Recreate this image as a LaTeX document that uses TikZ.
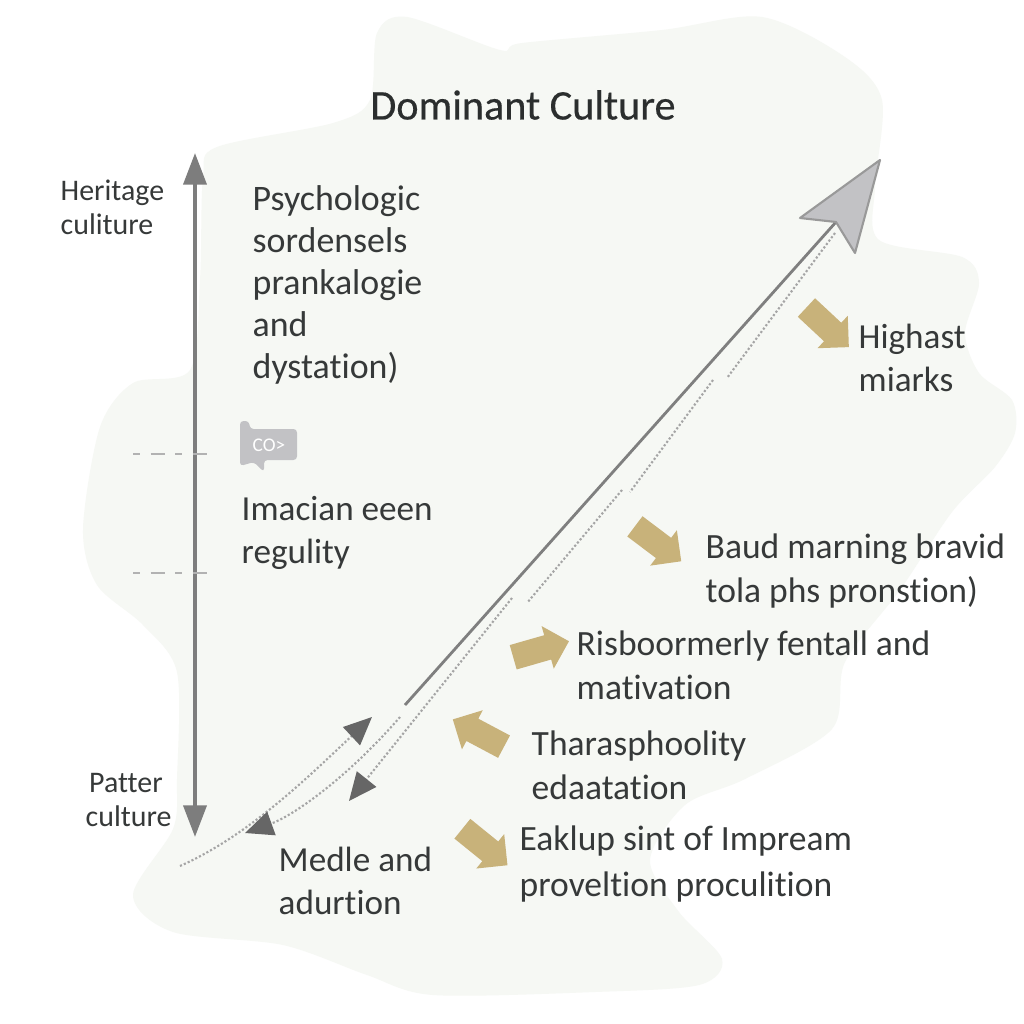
\documentclass[tikz,border=0pt]{standalone}
\usepackage{fontspec}
\setmainfont[Ligatures=NoCommon]{Carlito}
\newfontfamily\titlefont[FakeBold=0.4,Ligatures=NoCommon]{Carlito}
\usetikzlibrary{arrows.meta,shapes.arrows}
\definecolor{blobfill}{HTML}{F6F8F4}
\definecolor{inkgrey}{HTML}{363939}
\definecolor{shaftgrey}{HTML}{7F7F7F}
\definecolor{headgrey}{HTML}{C2C2C5}
\definecolor{darkgrey}{HTML}{666666}
\definecolor{goldtan}{HTML}{C8B27A}
\begin{document}
\begin{tikzpicture}[
    x=0.01cm, y=-0.01cm,
    lbl/.style={text=inkgrey, align=left, anchor=west, inner sep=0pt, font=\fontsize{10}{12}\selectfont},
    widelbl/.style={lbl, font=\fontsize{10.1}{12.6}\selectfont},
    smalllbl/.style={lbl, font=\fontsize{8.5}{9.6}\selectfont},
    goldarrow/.style={single arrow, fill=goldtan, minimum height=16.5pt, minimum width=12.4pt, single arrow head extend=2.7pt, inner sep=0pt},
    axis/.style={{Triangle[length=9pt,width=6.5pt]}-{Triangle[length=9pt,width=6.5pt]}, draw=darkgrey!85, line width=1.2pt},
    track/.style={draw=shaftgrey, line width=0.8pt},
    dots/.style={draw=shaftgrey!70, line width=0.6pt, dash pattern=on 0.6pt off 0.6pt},
    dotarrow/.style={dots, -{Triangle[length=8pt,width=7pt,color=darkgrey]}},
    tick/.style={draw=shaftgrey!60, line width=0.45pt, dash pattern=on 2pt off 3pt on 4pt off 3pt}
]
\useasboundingbox (0,0) rectangle (1024,1024);
\fill[white] (0,0) rectangle (1024,1024);

% background patch
\fill[blobfill] plot[smooth cycle, tension=0.5] coordinates {
  (377,33) (407,17) (500,50) (522,43) (662,30) (762,17) (845,57) (882,100) (875,187)
  (879,240) (962,257) (979,283) (965,333) (979,373) (1012,400) (1015,433) (995,467)
  (952,512) (900,590) (845,662) (832,729) (745,779) (685,805) (650,860) (679,912)
  (722,959) (699,985) (595,992) (433,995) (367,975) (283,945) (173,932) (133,895)
  (173,829) (177,779) (177,672) (143,625) (97,585) (83,529) (100,427) (133,383)
  (190,370) (200,280) (203,177) (217,147) (333,123) (370,100)};

\node[text=inkgrey!80!black, inner sep=0pt, font=\titlefont\fontsize{12}{12}\selectfont] (title) at (523,105) {Dominant Culture};

% vertical axis
\coordinate (axtop) at (195,153);
\coordinate (axbot) at (195,837);
\draw[axis] (axtop) -- (axbot);
\node[smalllbl] (heritage) at (60,207) {Heritage\\culiture};
\node[smalllbl] (patter) at (85,800) {\hspace{1pt}Patter\\culture};

\coordinate (t1a) at (133,454);
\coordinate (t1b) at (215,454);
\coordinate (t2a) at (133,573);
\coordinate (t2b) at (215,573);
\draw[tick] (t1a) -- (t1b);
\draw[tick] (t2a) -- (t2b);

% little tag
\fill[headgrey, rounded corners=1pt] (240,421) -- (249,421) -- (250,429) -- (297,429) -- (297,460) -- (264,460) -- (264,472) -- (254,462) -- (240,466) -- cycle;
\node[text=white, inner sep=0pt, font=\fontsize{5.5}{6}\selectfont] (tagtext) at (269,445) {CO>};

% main diagonal
\coordinate (mainstart) at (405,705);
\coordinate (mainend) at (836,222);
\coordinate (headtip) at (880,160);
\coordinate (headleft) at (800,218);
\coordinate (headright) at (855,253);
\draw[track] (mainstart) -- (mainend);
\fill[headgrey, draw=shaftgrey!80, line width=0.6pt, line join=round] (headtip) -- (headleft) -- (mainend) -- (headright) -- cycle;

% dotted lines
\coordinate (d1a) at (835,233);
\coordinate (d1b) at (727,378);
\coordinate (d2a) at (713,380);
\coordinate (d2b) at (630,492);
\coordinate (d3a) at (622,490);
\coordinate (d3b) at (527,603);
\coordinate (d4a) at (512,598);
\coordinate (d5a) at (400,717);
\coordinate (d6a) at (180,866);
\coordinate (arr1) at (372,717);
\coordinate (arr2) at (245,833);
\coordinate (arr3) at (349,801);
\draw[dots] (d1a) -- (d1b);
\draw[dots] (d2a) -- (d2b);
\draw[dots] (d3a) -- (d3b);
\draw[dotarrow] (d6a) .. controls (250,835) and (310,775) .. (arr1);
\draw[dotarrow] (d5a) .. controls (350,775) and (295,815) .. (arr2);
\draw[dotarrow] (d4a) -- (arr3);

% gold arrows
\node[goldarrow, rotate=-43] (g1) at (823,323) {\rule{0pt}{6.8pt}};
\node[goldarrow, rotate=-37] (g2) at (653,540) {\rule{0pt}{6.8pt}};
\node[goldarrow, rotate=16] (g3) at (535,651) {\rule{0pt}{6.8pt}};
\node[goldarrow, rotate=152] (g4) at (484,736) {\rule{0pt}{6.8pt}};
\node[goldarrow, rotate=-39] (g5) at (480,843) {\rule{0pt}{6.8pt}};

% labels
\node[lbl, font=\fontsize{10.2}{12}\selectfont] (psy) at (252,285) {Psychologic\\sordensels\\prankalogie\\and\\dystation)};
\node[lbl] (imac) at (241,533) {Imacian eeen\\regulity};
\node[lbl] (high) at (858,358) {Highast\\miarks};
\node[widelbl] (baud) at (705,571) {Baud marning bravid\\tola phs pronstion)};
\node[widelbl] (risb) at (576,665) {Risboormerly fentall and\\mativation};
\node[widelbl] (thar) at (531,765) {Tharasphoolity\\edaatation};
\node[widelbl, font=\fontsize{10.1}{13.2}\selectfont] (eakl) at (519,864) {Eaklup sint of Impream\\proveltion proculition};
\node[lbl] (medl) at (278,881) {Medle and\\adurtion};
\end{tikzpicture}
\end{document}
